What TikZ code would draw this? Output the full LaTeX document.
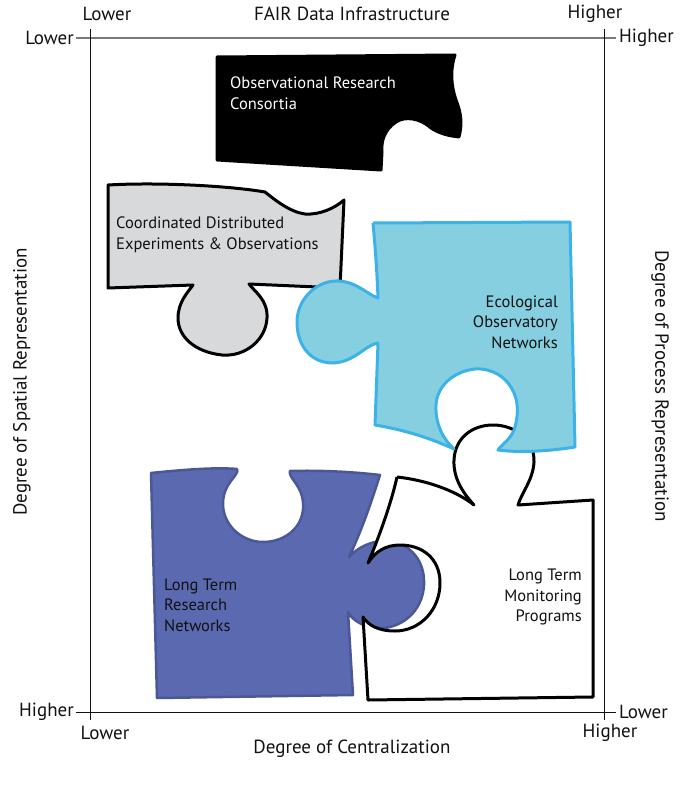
\documentclass[tikz,border=0pt]{standalone}
\usepackage{fontspec}
\setmainfont{PT Sans}
\usepackage{tikz}
\usepackage{xcolor}
\usetikzlibrary{positioning}
\definecolor{ink}{HTML}{111111}
\definecolor{axisgray}{HTML}{7A7A7A}
\definecolor{pgray}{HTML}{D8D9DB}
\definecolor{pcyan}{HTML}{86CFE0}
\definecolor{pcyanline}{HTML}{3BB3E6}
\definecolor{pblue}{HTML}{5B6AB0}
\definecolor{pblueline}{HTML}{4A5896}
\newcommand\piecefont{\fontsize{16.5}{20.5}\selectfont}
\newcommand\axisfont{\fontsize{19}{22}\selectfont}
\tikzset{
  piece/.style={line width=3pt, line join=round},
  pblack/.style={piece, draw=black, fill=black},
  pgrey/.style={piece, draw=black, fill=pgray},
  pteal/.style={piece, draw=pcyanline, fill=pcyan},
  pnavy/.style={piece, draw=pblueline, fill=pblue, line width=2.5pt},
  pwhite/.style={piece, draw=black, fill=white},
  %
  lbl/.style={font=\piecefont, text=ink, inner sep=0pt},
  ax/.style={font=\axisfont, text=ink, inner sep=0pt},
  frame/.style={draw=ink, line width=0.8pt},
}
\begin{document}
\begin{tikzpicture}[x=1pt, y=-1pt]
  \useasboundingbox (0,0) rectangle (697,792);

  % frame
  \draw[frame, draw=axisgray, line width=1.4pt] (76,38) -- (616,38);
  \draw[frame] (76,712) -- (616,712);
  \draw[frame] (90,29) -- (90,720);
  \draw[frame] (604,29) -- (604,720);

  \node[ax] (tl) at (107,14) {Lower};
  \node[ax] (top) at (352,14) {FAIR Data Infrastructure};
  \node[ax] (tr) at (595,14) {Higher};
  \node[ax, anchor=east] (lt) at (74,38) {Lower};
  \node[ax, anchor=west] (rt) at (619,38) {Higher};
  \node[ax, anchor=east] (lb) at (74,712) {Higher};
  \node[ax, anchor=west] (rb) at (619,712) {Lower};
  \node[ax] (bl) at (105,733) {Lower};
  \node[ax] (br) at (610,733) {Higher};
  \node[ax] (bottom) at (352,749) {Degree of Centralization};
  \node[ax, rotate=90] (left) at (22,382) {Degree of Spatial Representation};
  \node[ax, rotate=-90] (right) at (660,386) {Degree of Process Representation};

  % pieces
  \draw[pblack] (217,57) -- (455,55)
    .. controls (450,70) and (451,85) .. (456,100)
    .. controls (462,115) and (462,125) .. (459,137)
    .. controls (450,136) and (440,134) .. (431,128)
    .. controls (420,118) and (405,116) .. (396,122)
    .. controls (384,130) and (381,142) .. (382,152)
    -- (381,170) -- (217,160) -- cycle;

  \draw[pgrey] (108,185)
    .. controls (160,182) and (230,186) .. (265,192)
    .. controls (275,200) and (290,212) .. (305,214)
    .. controls (320,215) and (335,208) .. (344,200)
    -- (340,288) -- (249,284)
    .. controls (255,292) and (268,300) .. (267,318)
    .. controls (266,340) and (245,357) .. (222,355)
    .. controls (195,352) and (178,337) .. (178,318)
    .. controls (178,302) and (188,292) .. (193,285)
    -- (108,288) -- cycle;

  \draw[pnavy] (151,473)
    .. controls (180,470) and (215,467) .. (237,469)
    .. controls (240,475) and (224,482) .. (223,502)
    .. controls (222,525) and (242,542) .. (263,542)
    .. controls (287,542) and (305,525) .. (303,503)
    .. controls (302,485) and (288,478) .. (290,471)
    .. controls (320,470) and (355,472) .. (380,475)
    .. controls (372,500) and (362,530) .. (349,557)
    .. controls (360,545) and (378,538) .. (395,542)
    .. controls (415,548) and (425,565) .. (424,585)
    .. controls (423,605) and (410,622) .. (390,627)
    .. controls (375,631) and (355,625) .. (348,612)
    -- (353,695) -- (157,698) -- cycle;

  \draw[pwhite] (397,477)
    .. controls (425,480) and (455,490) .. (474,505)
    .. controls (465,495) and (453,480) .. (454,460)
    .. controls (455,438) and (472,425) .. (493,425)
    .. controls (515,425) and (535,440) .. (534,462)
    .. controls (533,480) and (522,492) .. (518,505)
    -- (593,500) -- (593,697) -- (368,700) -- (363,617)
    .. controls (368,625) and (378,631) .. (395,631)
    .. controls (420,631) and (440,610) .. (440,583)
    .. controls (440,558) and (422,545) .. (400,545)
    .. controls (385,545) and (375,552) .. (368,563)
    .. controls (380,535) and (392,500) .. (397,477);

  \draw[pteal] (373,223) -- (570,222) -- (575,447)
    .. controls (550,451) and (520,453) .. (498,450)
    .. controls (502,444) and (510,440) .. (514,430)
    .. controls (520,412) and (518,395) .. (508,383)
    .. controls (500,373) and (487,368) .. (475,369)
    .. controls (455,371) and (437,385) .. (436,405)
    .. controls (435,425) and (444,440) .. (454,449)
    .. controls (430,438) and (405,430) .. (375,425)
    -- (378,343)
    .. controls (365,345) and (355,362) .. (333,363)
    .. controls (310,363) and (297,345) .. (297,322)
    .. controls (297,300) and (315,282) .. (335,281)
    .. controls (355,280) and (368,295) .. (378,298)
    .. controls (377,270) and (375,245) .. (373,223);

  % labels
  \node[lbl, text=white, anchor=west, align=left] (obs) at (230,93)
    {Observational Research\\Consortia};
  \node[lbl, anchor=west, align=left] (cdeo) at (116,235)
    {Coordinated Distributed\\Experiments \& Observations};
  \node[lbl, anchor=east, align=right] (eon) at (558,322)
    {Ecological\\Observatory\\Networks};
  \node[lbl, anchor=west, align=left] (ltrn) at (164,605)
    {Long Term\\Research\\Networks};
  \node[lbl, anchor=east, align=right] (ltmp) at (582,597)
    {Long Term\\Monitoring\\Programs};

\end{tikzpicture}
\end{document}
